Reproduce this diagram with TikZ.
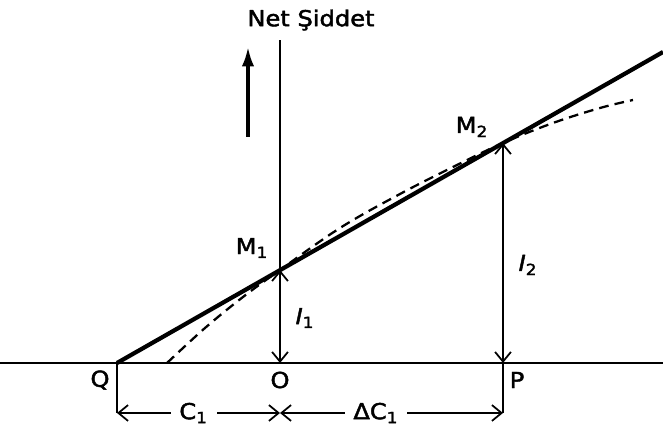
\documentclass[tikz,border=0pt]{standalone}
\usepackage{fontspec}
\setmainfont{DejaVu Sans}[FakeStretch=1.1,FakeBold=2]
\usepackage{tikz}
\usetikzlibrary{arrows.meta}

\begin{document}
\begin{tikzpicture}[line join=round,
    thin line/.style={line width=1pt},
    bar/.style={thin line,{Straight Barb[length=5.5pt,width=9pt]}-{Straight Barb[length=5.5pt,width=9pt]}},
    lbl/.style={inner sep=1pt,font=\fontsize{12.5}{15}\selectfont}]
  \useasboundingbox (-5.600,-1.380) rectangle (7.660,7.260);
  \coordinate (O) at (0.000,0.000);
  \coordinate (Q) at (-3.260,0.000);
  \coordinate (P) at (4.460,0.000);
  \coordinate (M1) at (0.000,1.860);
  \coordinate (M2) at (4.460,4.400);
  \coordinate (E) at (7.660,6.220);
  \coordinate (AL) at (-5.600,0.000);
  \coordinate (AR) at (7.660,0.000);
  \coordinate (AT) at (0.000,6.460);
  \coordinate (U0) at (-0.640,4.520);
  \coordinate (U1) at (-0.640,6.320);
  \coordinate (QD) at (-3.260,-1.000);
  \coordinate (OD) at (0.000,-1.000);
  \coordinate (PD) at (4.460,-1.000);
  % axes
  \draw[thin line] (AL) -- (AR);
  \draw[thin line] (O) -- (AT);
  \draw[line width=1.8pt,-{Latex[length=11pt,width=7pt]}] (U0) -- (U1);
  % tangent line and curve
  \draw[line width=2.4pt] (Q) -- (E);
  \draw[line width=1.3pt,dash pattern=on 5.5pt off 3.5pt] plot[smooth,tension=0.6] coordinates
    {(-2.26,0) (-1.50,0.70) (-0.74,1.32) (0,1.86) (1.20,2.70) (2.40,3.38)
     (3.46,3.92) (4.46,4.40) (5.46,4.80) (6.40,5.10) (7.06,5.26)};
  % heights
  \draw[bar] (M1) -- (O);
  \draw[bar] (M2) -- (P);
  % dimension lines
  \draw[thin line] (Q) -- (QD);
  \draw[thin line] (P) -- (PD);
  \draw[bar] (QD) -- node[lbl,fill=white,inner xsep=5pt,pos=0.47] (C) {C\textsubscript{1}} (OD);
  \draw[bar] (OD) -- node[lbl,fill=white,inner xsep=5pt,pos=0.43] (DC) {ΔC\textsubscript{1}} (PD);
  % labels
  \node[lbl] (title) at (0.62,6.86) {Net Şiddet};
  \node[lbl] (lM1) at (-0.56,2.30) {M\textsubscript{1}};
  \node[lbl] (lM2) at (3.84,4.72) {M\textsubscript{2}};
  \node[lbl] (lI1) at (0.50,0.90) {\textit{I}\textsubscript{1}};
  \node[lbl] (lI2) at (4.96,1.96) {\textit{I}\textsubscript{2}};
  \node[lbl] (lQ) at (-3.60,-0.34) {Q};
  \node[lbl] (lO) at (0.000,-0.34) {O};
  \node[lbl] (lP) at (4.74,-0.34) {P};
\end{tikzpicture}
\end{document}
